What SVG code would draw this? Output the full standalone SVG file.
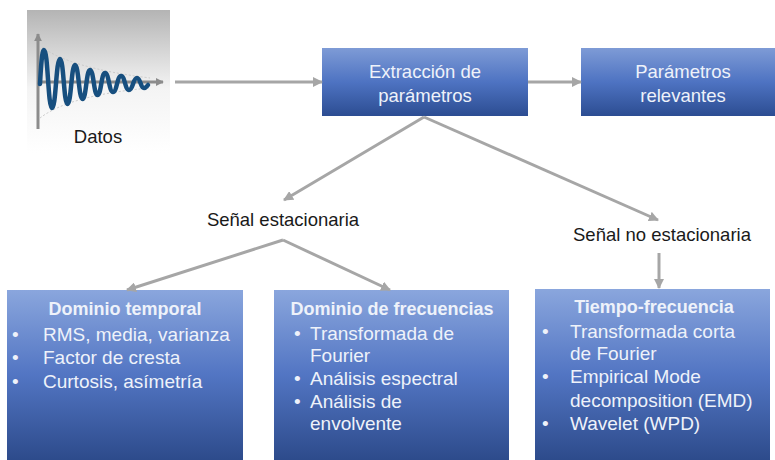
<svg xmlns="http://www.w3.org/2000/svg" width="775" height="460" viewBox="0 0 775 460">
<defs>
<style>
.lbl{font-family:"Liberation Sans",Arial,sans-serif;font-size:18.5px;fill:#1a1a1a;}
.bx{font-family:"Liberation Sans",Arial,sans-serif;font-size:19px;fill:#eef2fa;}
.tb{font-family:"Liberation Sans",Arial,sans-serif;font-size:18.5px;fill:#eef2fa;}
.hd{font-family:"Liberation Sans",Arial,sans-serif;font-size:18px;font-weight:bold;fill:#eef2fa;}
.con{stroke:#a6a6a6;stroke-width:3;fill:none;marker-end:url(#ah);}
.ax{stroke:#8c8c8c;stroke-width:3;fill:none;marker-end:url(#axh);}
</style>
<linearGradient id="gTop" x1="0" y1="0" x2="0" y2="1">
<stop offset="0" stop-color="#7e9bd6"/>
<stop offset="0.5" stop-color="#4e73c2"/>
<stop offset="1" stop-color="#2c4d92"/>
</linearGradient>
<linearGradient id="gBot" x1="0" y1="0" x2="0" y2="1">
<stop offset="0" stop-color="#8aa6dd"/>
<stop offset="0.5" stop-color="#5275c3"/>
<stop offset="1" stop-color="#2d4b8b"/>
</linearGradient>
<linearGradient id="gData" x1="0" y1="0" x2="0" y2="1">
<stop offset="0" stop-color="#b4b4b4"/>
<stop offset="0.55" stop-color="#f4f4f4"/>
<stop offset="1" stop-color="#ffffff"/>
</linearGradient>
<marker id="ah" viewBox="0 0 10 10" refX="9" refY="5" markerWidth="10" markerHeight="10" markerUnits="userSpaceOnUse" orient="auto">
<path d="M0,0 L10,5 L0,10 z" fill="#a6a6a6"/>
</marker>
<marker id="axh" viewBox="0 0 10 10" refX="9" refY="5" markerWidth="8" markerHeight="8" markerUnits="userSpaceOnUse" orient="auto">
<path d="M0,0 L10,5 L0,10 z" fill="#8c8c8c"/>
</marker>
</defs>
<rect width="775" height="460" fill="#ffffff"/>

<g id="datos">
<rect x="27" y="10" width="143" height="143" fill="url(#gData)"/>
<path d="M42,47 Q70,68 150,78" stroke="#c9c9c9" stroke-width="1" stroke-dasharray="2,2" fill="none"/>
<path d="M40,118 Q70,95 150,88" stroke="#c9c9c9" stroke-width="1" stroke-dasharray="2,2" fill="none"/>
<line class="ax" x1="38" y1="129" x2="38" y2="34"/>
<line class="ax" x1="38" y1="82" x2="163" y2="82"/>
<path d="M40,84 C41,66 42,50 44,50 C48,50 48,108 52,108 C56,108 56,59 60,59 C63.75,59 63.75,104 67.5,104 C71.25,104 71.25,65 75,65 C78.75,65 78.75,99 82.5,99 C86.25,99 86.25,70 90,70 C93.75,70 93.75,95 97.5,95 C101.25,95 101.25,73 105,73 C109,73 109,92 113,92 C117,92 117,76 121,76 C125,76 125,90 129,90 C133,90 133,78 137,78 C140.5,78 140.5,88 144,88 C146,88 147,86 148,85" stroke="#174f7f" stroke-width="4.5" fill="none" stroke-linecap="round" stroke-linejoin="round"/>
<text class="lbl" x="98" y="143" text-anchor="middle">Datos</text>
</g>

<g id="extraccion">
<rect x="322" y="48" width="206" height="68" fill="url(#gTop)"/>
<text class="tb" x="425" y="78" text-anchor="middle">Extracción de</text>
<text class="tb" x="425" y="102" text-anchor="middle">parámetros</text>
</g>

<g id="parametros">
<rect x="581" y="48" width="204" height="68" fill="url(#gTop)"/>
<text class="tb" x="683" y="78" text-anchor="middle">Parámetros</text>
<text class="tb" x="683" y="102" text-anchor="middle">relevantes</text>
</g>

<g id="senal-est">
<text class="lbl" x="283" y="226" text-anchor="middle">Señal estacionaria</text>
</g>

<g id="senal-noest">
<text class="lbl" x="662" y="241" text-anchor="middle">Señal no estacionaria</text>
</g>

<g id="dominio-temporal">
<rect x="7" y="290" width="236" height="170" fill="url(#gBot)"/>
<text class="hd" x="125" y="315" text-anchor="middle">Dominio temporal</text>
<text class="bx" x="12" y="341">•</text><text class="bx" x="43" y="341">RMS, media, varianza</text>
<text class="bx" x="12" y="364">•</text><text class="bx" x="43" y="364">Factor de cresta</text>
<text class="bx" x="12" y="388">•</text><text class="bx" x="43" y="388">Curtosis, asímetría</text>
</g>

<g id="dominio-frecuencias">
<rect x="274" y="290" width="235" height="170" fill="url(#gBot)"/>
<text class="hd" x="392" y="315" text-anchor="middle">Dominio de frecuencias</text>
<text class="bx" x="294" y="340">•</text><text class="bx" x="310" y="340">Transformada de</text>
<text class="bx" x="310" y="362">Fourier</text>
<text class="bx" x="294" y="385">•</text><text class="bx" x="310" y="385">Análisis espectral</text>
<text class="bx" x="294" y="408">•</text><text class="bx" x="310" y="408">Análisis de</text>
<text class="bx" x="310" y="430">envolvente</text>
</g>

<g id="tiempo-frecuencia">
<rect x="535" y="289" width="235" height="171" fill="url(#gBot)"/>
<text class="hd" x="654" y="313" text-anchor="middle">Tiempo-frecuencia</text>
<text class="bx" x="542" y="338">•</text><text class="bx" x="570" y="338">Transformada corta</text>
<text class="bx" x="570" y="360">de Fourier</text>
<text class="bx" x="542" y="383">•</text><text class="bx" x="570" y="383">Empirical Mode</text>
<text class="bx" x="570" y="407">decomposition (EMD)</text>
<text class="bx" x="542" y="430">•</text><text class="bx" x="570" y="430">Wavelet (WPD)</text>
</g>

<g id="connectors">
<line class="con" x1="175" y1="82" x2="322" y2="82"/>
<line class="con" x1="528" y1="82" x2="581" y2="82"/>
<line class="con" x1="424" y1="117" x2="284" y2="200"/>
<line class="con" x1="424" y1="117" x2="658" y2="220"/>
<line class="con" x1="283" y1="240" x2="127" y2="290"/>
<line class="con" x1="283" y1="240" x2="390" y2="290"/>
<line class="con" x1="659" y1="253" x2="659" y2="288"/>
</g>
</svg>
